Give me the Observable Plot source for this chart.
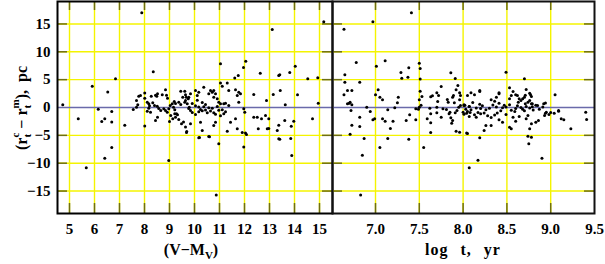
<!DOCTYPE html>
<html>
<head>
<meta charset="utf-8">
<script src="https://cdn.jsdelivr.net/npm/d3@7"></script>
<script src="https://cdn.jsdelivr.net/npm/@observablehq/plot@0.6"></script>
<style>
  html, body { margin: 0; padding: 0; background: #fff; }
  #wrap { position: relative; width: 605px; height: 264px; background: #fff; overflow: hidden; }
  #wrap > div, #wrap > svg { position: absolute; top: 0; }
</style>
</head>
<body>
<div id="wrap">
  <div id="left" style="left:0"></div>
  <div id="right" style="left:332px"></div>
</div>
<script>
// ---- Data ----
// Left panel: x = (V - M_V), y = r_t^c - r_t^m (pc)
const leftVMV = [
  4.73,5.35,5.91,6.15,6.29,6.41,6.53,6.69,6.69,6.84,7.21,7.89,8.35,8.01,5.67,6.41,6.69,8.97,9.68,10.2,
  7.55,7.68,7.73,7.68,7.77,7.84,8.01,8.01,8.11,8.17,8.17,8.11,8.24,8.2,8.27,8.44,8.52,8.49,8.71,8.84,
  8.88,8.92,8.33,8.4,8.51,8.57,8.65,8.44,8.52,8.77,8.84,8.91,8.97,9.03,9.11,9.16,9.21,9.28,9.05,9.13,
  9.24,9.0,9.21,9.32,9.37,9.48,9.56,9.64,9.69,9.45,9.61,9.64,9.67,9.75,9.61,9.71,9.79,9.84,9.19,9.24,
  9.37,9.45,9.53,9.64,
  11.04,12.05,11.96,11.75,11.61,12.63,13.37,11.04,11.31,11.11,11.37,11.64,11.77,11.71,11.84,12.37,12.88,13.15,
  10.77,10.84,10.71,10.64,10.37,10.17,10.11,10.04,9.84,9.77,10.57,10.77,10.91,10.97,11.04,11.17,11.24,11.37,
  11.77,11.97,12.01,
  9.91,10.04,10.17,10.24,10.31,10.37,10.44,10.51,10.17,10.04,9.91,9.77,10.11,10.31,10.44,10.57,10.64,10.71,
  10.77,10.84,10.91,10.97,11.11,11.17,11.24,11.04,
  9.84,10.24,10.31,10.84,10.77,11.44,11.64,11.71,11.31,10.57,10.17,10.97,11.97,12.04,12.51,12.68,12.84,12.97,
  12.55,12.91,13.31,13.37,12.37,
  13.11,15.17,13.41,13.81,14.03,14.53,14.93,13.43,14.12,13.63,14.95,14.72,13.61,13.97,13.37,13.87,12.97,10.6,
  10.87,11.91,12.08,13.41,13.85,13.89
];
const leftDr = [
  0.48,-2.0,3.8,-0.3,-2.5,-2.0,2.8,-0.7,-2.6,5.15,-3.2,17.0,6.4,-3.3,-10.8,-9.1,-7.2,-9.5,-4.5,-5.4,
  -0.36,0.05,0.5,1.26,2.0,2.15,2.6,1.67,0.95,0.66,-0.12,-0.66,-0.84,0.3,2.0,2.2,2.45,2.0,2.3,3.2,
  2.2,1.67,0.84,0.36,0.24,-0.18,-0.54,-2.33,-1.74,-0.24,-0.54,-0.84,-0.24,0.36,0.66,0.05,-0.42,-1.14,-1.44,-2.03,
  -1.74,-2.5,-1.14,-1.32,-2.15,-2.9,-2.6,-3.5,-4.3,2.9,2.9,2.3,1.85,1.56,0.95,0.66,0.05,-0.54,1.08,0.72,
  0.95,0.54,1.85,1.26,
  7.85,8.3,7.2,5.75,5.3,6.15,5.75,4.4,4.4,3.8,3.05,3.2,2.75,2.15,2.45,2.33,1.26,2.33,
  3.05,2.45,2.75,3.05,3.65,2.75,2.15,3.05,2.45,1.85,2.45,1.85,1.56,0.95,0.66,0.66,0.77,0.36,
  0.95,-0.24,-0.84,
  0.7,0.3,0.1,-0.35,-0.6,0.15,-0.45,-0.95,-0.75,-1.25,-0.9,-0.2,1.3,0.9,0.55,-0.05,-0.65,-0.15,
  -0.95,-1.2,0.2,-0.5,-0.4,-1.1,-0.75,-1.5,
  -2.93,-2.63,-4.13,-2.63,-3.23,-2.63,-2.03,-3.83,-4.25,-5.2,-5.45,-6.5,-7.1,-4.6,-1.74,-2.03,-1.44,-2.03,
  -3.83,-3.83,-4.13,-5.6,-1.74,
  14.0,15.4,5.87,6.28,7.4,5.15,5.33,3.05,2.28,0.48,0.77,-2.03,-2.33,-2.45,-3.17,-3.35,-3.77,-5.27,
  -15.7,-4.5,-4.85,-5.7,-5.57,-8.6
];

// Right panel: x = log t (yr), y = r_t^c - r_t^m (pc)
const rightLogT = [
  6.97,7.41,6.64,6.78,7.11,7.01,7.5,7.29,7.3,7.37,7.38,7.51,7.51,7.86,7.91,6.65,6.65,6.82,6.68,6.73,
  6.64,6.7,6.68,6.72,6.71,6.73,7.03,7.0,7.05,7.08,6.9,6.94,6.82,6.82,6.73,6.97,6.99,7.08,7.11,7.14,
  7.17,7.2,7.22,7.26,7.25,7.35,7.39,7.46,7.49,7.46,7.5,7.52,7.5,7.51,7.53,7.59,7.63,7.62,7.63,7.65,
  7.7,7.72,7.75,7.71,7.7,7.7,7.75,7.77,7.63,
  6.71,6.87,6.85,7.05,7.14,7.38,7.55,6.83,7.63,8.05,8.07,
  7.82,7.81,7.84,7.86,7.88,7.87,7.91,7.89,7.88,7.92,7.94,7.96,7.97,7.96,7.9,7.92,7.96,8.01,8.0,
  7.83,7.93,7.95,7.97,7.85,
  8.02,8.07,8.08,8.04,
  8.49,8.70,9.05,
  8.05,8.09,8.13,8.19,8.19,8.38,8.41,8.41,8.36,8.32,
  8.53,8.57,8.55,8.53,8.6,8.62,8.64,8.63,8.66,8.68,8.7,8.71,8.72,8.76,8.77,8.78,8.71,8.74,8.76,8.78,8.79,
  8.01,8.03,8.07,8.11,8.15,8.19,8.22,8.26,8.05,8.09,8.13,8.17,8.2,8.24,8.28,8.3,8.34,8.38,8.41,8.45,
  8.47,8.43,8.39,8.36,8.32,8.01,8.07,8.15,8.2,
  8.49,8.53,8.55,8.59,8.6,8.62,8.66,8.68,8.7,8.72,8.76,8.79,8.8,8.83,8.87,8.91,8.94,8.95,9.0,9.04,
  9.09,9.12,9.15,9.23,9.4,9.41,8.93,8.86,8.83,8.78,8.74,8.72,8.64,8.6,8.57,8.49,8.45,8.41,8.32,8.26,
  8.24,8.04,8.19,8.53,8.55,8.76,8.78,8.74,8.75,
  8.17,8.9,9.09,8.98,8.94,8.92,8.85
];
const rightDr = [
  15.4,17.0,14.06,8.08,8.38,7.4,7.95,6.28,5.27,5.45,7.13,7.0,5.1,6.22,5.2,5.87,4.55,4.55,3.05,3.05,
  2.28,0.77,0.66,-0.54,0.95,0.48,3.17,2.28,1.85,1.38,0.05,-0.72,-1.74,-3.41,-3.17,-2.21,-2.03,-2.03,-2.45,-0.42,
  -3.77,-2.45,-0.06,1.85,0.84,-2.33,-1.32,-0.24,-0.3,-2.21,0.05,0.41,1.38,2.93,1.97,-2.03,-1.14,-0.12,1.92,2.1,
  2.64,2.15,3.77,1.08,0.05,-0.96,-1.74,-0.24,-2.75,
  -4.79,-5.57,-8.56,-7.18,-5.57,-5.69,-7.18,-15.7,-4.5,-4.67,-10.8,
  1.44,-0.36,-1.14,-1.85,-2.33,-2.81,-0.96,2.15,1.85,3.17,3.95,2.64,0.36,1.38,0.84,-4.25,-4.43,0.36,-0.84,
  0.95,-0.54,0.05,2.15,-0.84,
  0.41,0.18,-0.9,-1.02,
  6.34,5.15,2.28,
  2.15,2.64,2.28,2.87,3.05,1.85,2.45,2.64,1.14,1.38,
  3.54,2.87,2.15,1.56,2.28,2.15,1.56,0.95,1.26,1.56,1.85,2.21,3.23,2.57,2.28,1.97,0.66,0.95,1.26,0.66,0.66,
  0.5,-0.3,0.2,0.9,-0.1,0.6,0.3,-0.4,-0.7,-0.4,-1.3,-0.9,-0.2,-1.0,-1.5,-0.15,0.45,0.1,0.75,-0.05,
  0.4,-0.6,-1.0,-1.35,-1.8,-1.2,-1.6,-1.75,-1.1,
  0.1,0.5,-0.5,-0.7,-0.2,0.3,0.0,-0.3,-0.6,0.2,-0.1,0.15,-0.45,0.4,-0.3,0.1,0.8,-0.84,-0.9,-1.02,
  -0.66,-2.03,-2.21,-3.83,-0.84,-2.15,-1.44,-2.33,-2.63,-2.93,-1.44,-2.03,-1.62,-2.45,-1.74,-1.26,-2.63,-2.21,-3.23,-3.23,
  -4.13,-4.6,-5.45,-3.53,-3.83,-3.83,-5.33,-5.15,-6.52,
  -9.46,-9.1,-0.54,-1.26,-1.02,0.66,0.36
];

// Ticks
const yTicks = [-15, -10, -5, 0, 5, 10, 15];
const yGrid = [-15, -10, -5, 5, 10, 15];
const leftTicks = [5, 6, 7, 8, 9, 10, 11, 12, 13, 14, 15];
const rightTicks = [7.0, 7.5, 8.0, 8.5, 9.0, 9.5];
const rightGrid = [7.0, 7.5, 8.0, 8.5, 9.0];

// Axis titles
const xTitleLeft = ["(V−M", "V", ")"];
const xTitleRight = "log t, yr";

// ---- Styles ----
const YELLOW = "#f4f400";
const OLIVE = "#6e6e12";
const ZERO = "#6a6aaa";
const FONT = "Liberation Serif";

const leftData = leftVMV.map((x, i) => ({x, y: leftDr[i]}));
const rightData = rightLogT.map((x, i) => ({x, y: rightDr[i]}));

const baseStyle = {background: "transparent", fontFamily: FONT, fontSize: "15px", fontWeight: "bold", color: "black", overflow: "visible"};

const leftPlot = Plot.plot({
  height: 264,
  marginTop: 1,
  marginBottom: 51,
  width: 333,
  marginLeft: 57,
  marginRight: 1,
  style: baseStyle,
  x: {domain: [4.52, 15.52]},
  y: {domain: [-19.03, 19.03]},
  marks: [
    Plot.ruleX(leftTicks, {stroke: YELLOW, strokeWidth: 1.4}),
    Plot.ruleY(yGrid, {stroke: YELLOW, strokeWidth: 1.4}),
    Plot.ruleY([0], {stroke: ZERO, strokeWidth: 1.6}),
    Plot.ruleX(leftTicks, {stroke: OLIVE, strokeWidth: 1.5, insetTop: 202}),
    Plot.ruleX(leftTicks, {stroke: OLIVE, strokeWidth: 1.5, insetBottom: 203}),
    Plot.ruleY(yGrid, {stroke: OLIVE, strokeWidth: 1.5, insetRight: 265}),
    Plot.ruleY(yGrid, {stroke: OLIVE, strokeWidth: 1.5, insetLeft: 265}),
    Plot.dot(leftData, {x: "x", y: "y", r: 1.5, fill: "black", stroke: null}),
    Plot.axisX(leftTicks, {tickSize: 0, tickPadding: 10, label: null}),
    Plot.axisY(yTicks, {tickSize: 0, tickPadding: 7, label: null}),
    Plot.frame({stroke: "black", strokeWidth: 2})
  ]
});

const rightPlot = Plot.plot({
  height: 264,
  marginTop: 1,
  marginBottom: 51,
  width: 273,
  marginLeft: 0,
  marginRight: 11,
  style: baseStyle,
  x: {domain: [6.509, 9.5]},
  y: {domain: [-19.03, 19.03], axis: null},
  marks: [
    Plot.ruleX(rightGrid, {stroke: YELLOW, strokeWidth: 1.4}),
    Plot.ruleY(yGrid, {stroke: YELLOW, strokeWidth: 1.4}),
    Plot.ruleY([0], {stroke: ZERO, strokeWidth: 1.6}),
    Plot.ruleX(rightGrid, {stroke: OLIVE, strokeWidth: 1.5, insetTop: 202}),
    Plot.ruleX(rightGrid, {stroke: OLIVE, strokeWidth: 1.5, insetBottom: 203}),
    Plot.ruleY(yGrid, {stroke: OLIVE, strokeWidth: 1.5, insetRight: 252}),
    Plot.ruleY(yGrid, {stroke: OLIVE, strokeWidth: 1.5, insetLeft: 252}),
    Plot.dot(rightData, {x: "x", y: "y", r: 1.5, fill: "black", stroke: null}),
    Plot.axisX(rightTicks, {tickSize: 0, tickPadding: 10, label: null, tickFormat: d3.format(".1f")}),
    Plot.frame({stroke: "#111", strokeWidth: 2})
  ]
});

document.getElementById("left").appendChild(leftPlot);
document.getElementById("right").appendChild(rightPlot);

// ---- Axis titles (overlay, real text with sub/superscripts) ----
const ov = d3.select("#wrap").append("svg")
  .attr("width", 605).attr("height", 264)
  .style("left", "0px").style("pointer-events", "none")
  .attr("font-family", FONT).attr("font-weight", "bold").attr("font-size", 15).attr("fill", "black");

const tl = ov.append("text").attr("x", 191).attr("y", 255).attr("text-anchor", "middle")
  .attr("font-size", 16);
tl.append("tspan").text(xTitleLeft[0]);
tl.append("tspan").attr("font-size", 11).attr("dy", 4).text(xTitleLeft[1]);
tl.append("tspan").attr("dy", -4).text(xTitleLeft[2]);

ov.append("text").attr("x", 463).attr("y", 255).attr("text-anchor", "middle")
  .attr("font-size", 16).style("letter-spacing", "1px").style("word-spacing", "7px")
  .text(xTitleRight);

// y title: (r^c_t − r^m_t), pc  rotated
const yt = ov.append("text").attr("text-anchor", "middle")
  .attr("font-size", 16)
  .attr("transform", "translate(27,108) rotate(-90)");
yt.append("tspan").text("(r");
yt.append("tspan").attr("font-size", 11).attr("dy", -8).text("c");
yt.append("tspan").attr("font-size", 11).attr("dx", -4.9).attr("dy", 12).text("t");
yt.append("tspan").attr("dx", 1.2).attr("dy", -4).style("white-space", "pre").text(" − r");
yt.append("tspan").attr("font-size", 11).attr("dy", -8).text("m");
yt.append("tspan").attr("font-size", 11).attr("dx", -9.2).attr("dy", 12).text("t");
yt.append("tspan").attr("dx", 5.5).attr("dy", -4).style("white-space", "pre").text("),  pc");
</script>
</body>
</html>
